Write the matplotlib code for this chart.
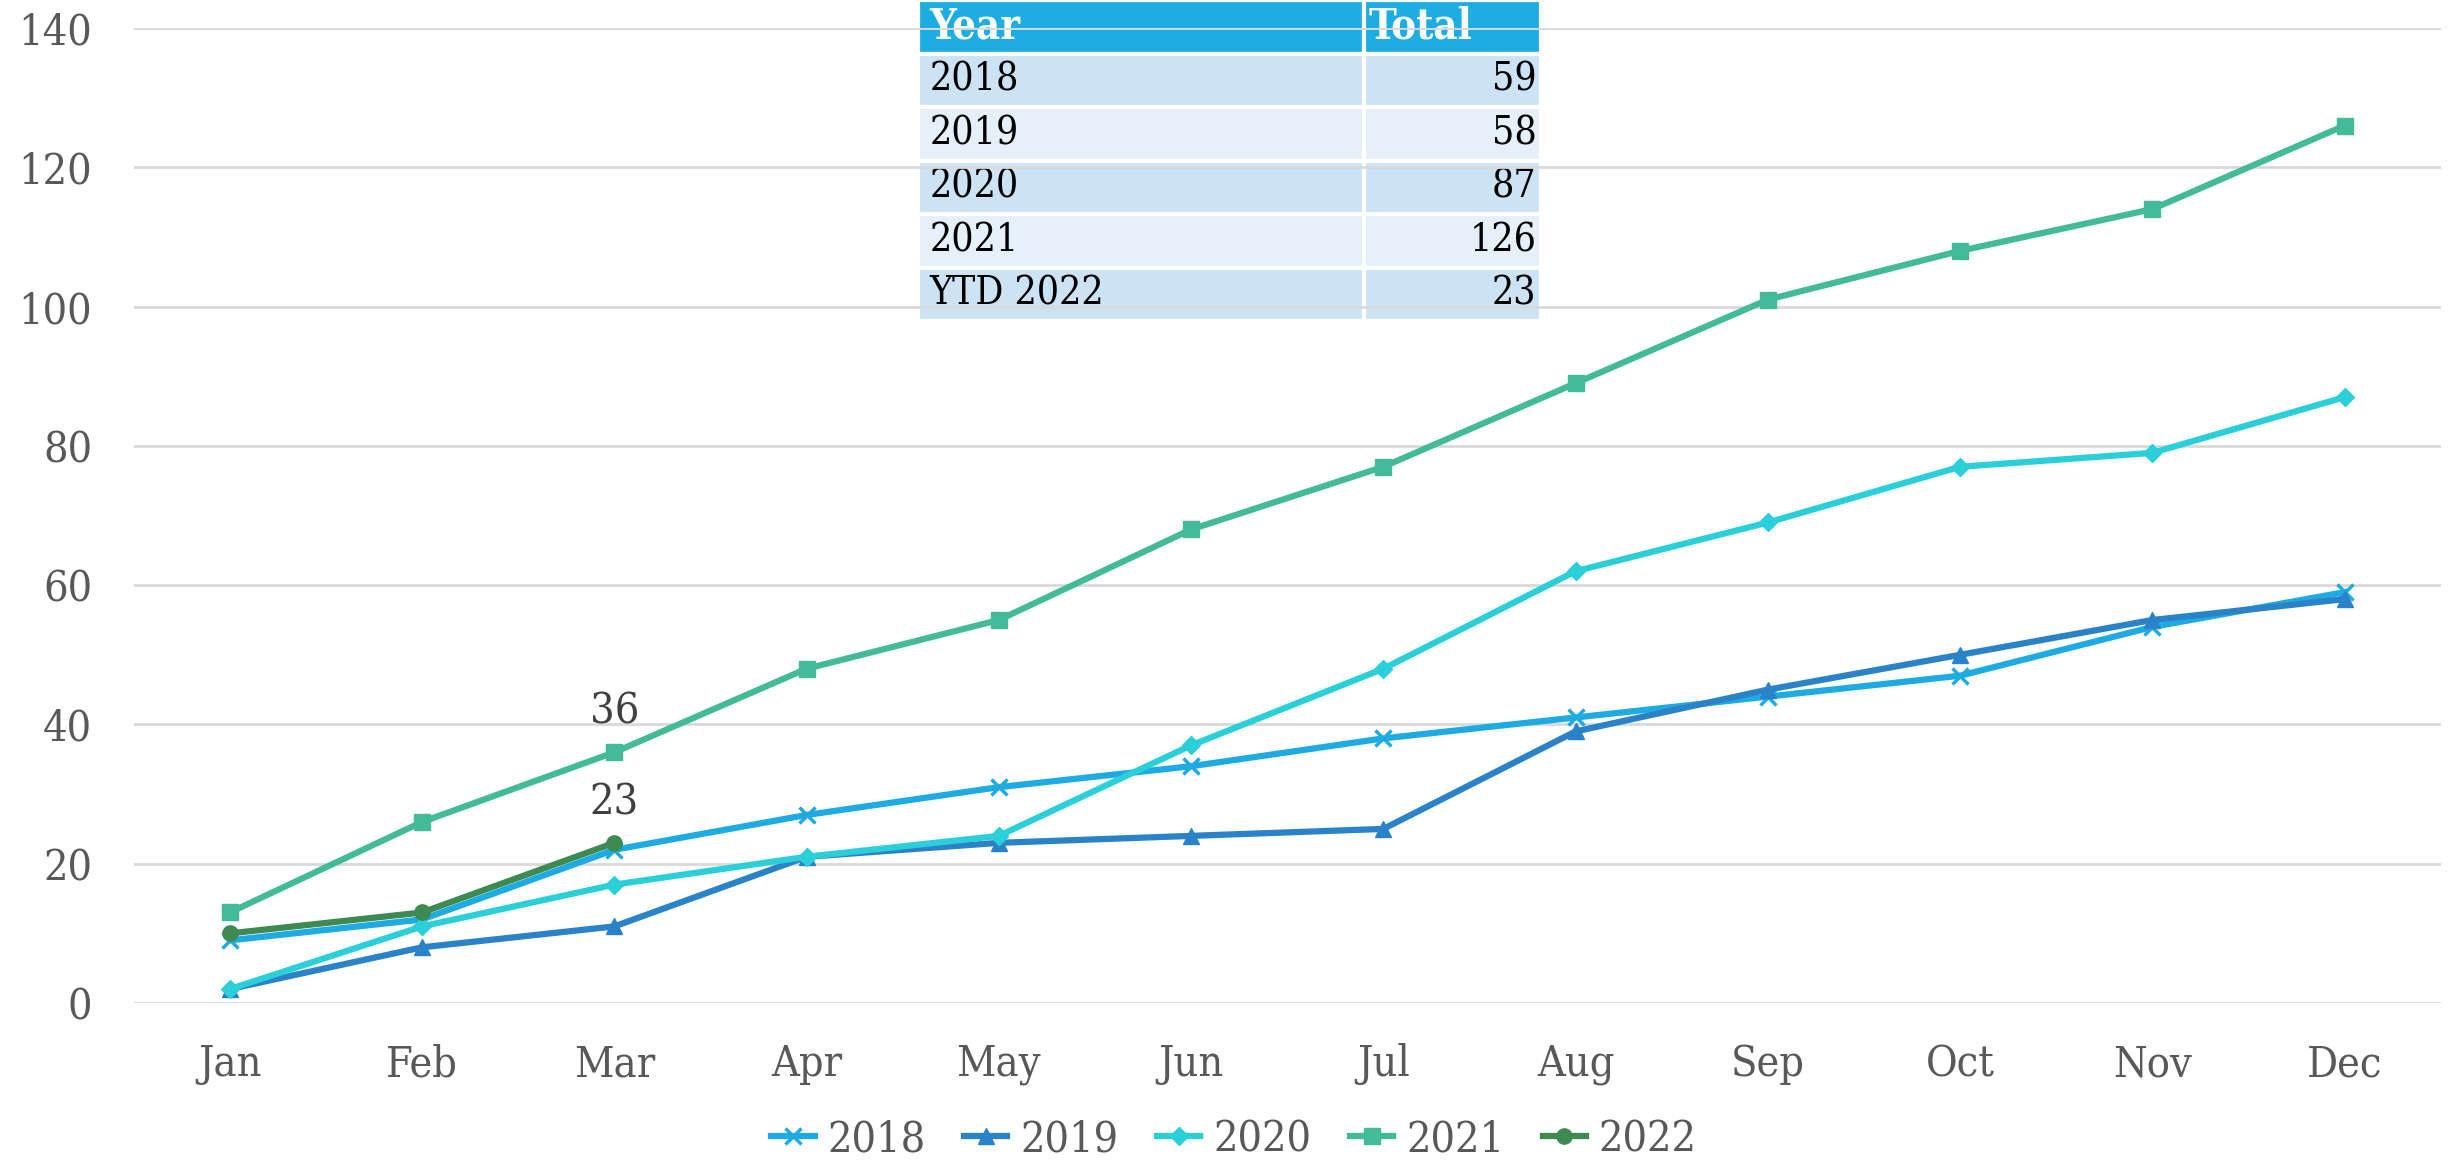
import numpy as np
import matplotlib
matplotlib.use('Agg')
import matplotlib.pyplot as plt

# данные с графика
months = ['Jan', 'Feb', 'Mar', 'Apr', 'May', 'Jun', 'Jul', 'Aug', 'Sep', 'Oct', 'Nov', 'Dec']
y2018 = [9, 12, 22, 27, 31, 34, 38, 41, 44, 47, 54, 59]
y2019 = [2, 8, 11, 21, 23, 24, 25, 39, 45, 50, 55, 58]
y2020 = [2, 11, 17, 21, 24, 37, 48, 62, 69, 77, 79, 87]
y2021 = [13, 26, 36, 48, 55, 68, 77, 89, 101, 108, 114, 126]
y2022 = [10, 13, 23]

table_years = ['2018', '2019', '2020', '2021', 'YTD 2022']
table_totals = [59, 58, 87, 126, 23]

plt.rcParams['font.family'] = ['DejaVu Serif']
plt.rcParams['font.stretch'] = 'condensed'

fig = plt.figure(figsize=(24.53, 11.64), dpi=100)
ax = fig.add_axes([0.0545, 0.1383, 0.9405, 0.8376])

x = np.arange(len(months))
series = [
    ('2018', y2018, '#1EABE3', 'x'),
    ('2019', y2019, '#2A82C8', '^'),
    ('2020', y2020, '#2BCFDA', 'D'),
    ('2021', y2021, '#43BB98', 's'),
    ('2022', y2022, '#3D8A52', 'o'),
]
for name, vals, col, mk in series:
    ms = 9 if mk == 'D' else 11
    ax.plot(x[:len(vals)], vals, color=col, lw=4.5, marker=mk, ms=ms,
            mew=2.5 if mk == 'x' else 1, mec=col, mfc=col, label=name)

# подписи значений за март
ax.annotate(str(y2021[2]), (x[2], y2021[2]), xytext=(0, 14), textcoords='offset points',
            ha='center', va='bottom', fontsize=31, color='#404040')
ax.annotate(str(y2022[2]), (x[2], y2022[2]), xytext=(0, 14), textcoords='offset points',
            ha='center', va='bottom', fontsize=31, color='#404040')

ax.set_xlim(-0.5, 11.5)
ax.set_ylim(0, 140)
ax.set_yticks(np.arange(0, 141, 20))
ax.set_xticks(x)
ax.set_xticklabels(months)
ax.tick_params(axis='both', length=0, labelsize=31, labelcolor='#595959')
ax.tick_params(axis='x', pad=29)
ax.tick_params(axis='y', pad=30)
ax.grid(axis='y', color='#D9D9D9', lw=2)
ax.set_axisbelow(True)
for s in ax.spines.values():
    s.set_visible(False)

leg = ax.legend(loc='center', bbox_to_anchor=(0.477, -0.1395), ncol=5, frameon=False,
                fontsize=31, handlelength=1.0, handletextpad=0.3, columnspacing=0.9,
                labelcolor='#595959')

# таблица итогов
cell_text = [[y, str(t)] for y, t in zip(table_years, table_totals)]
tab = ax.table(cellText=cell_text, colLabels=['Year', 'Total'], colWidths=[0.716, 0.284],
               bbox=[0.340, 0.6995, 0.270, 0.329], cellLoc='left', colLoc='left')
tab.auto_set_font_size(False)
rows_bg = ['#CCE2F5', '#E5F0FA']
for (r, c), cell in tab.get_celld().items():
    cell.set_edgecolor('white')
    cell.set_linewidth(3)
    txt = cell.get_text()
    txt.set_fontsize(28)
    cell.PAD = 0.025
    if r == 0:
        cell.set_facecolor('#1EADE3')
        txt.set_color('white')
        txt.set_fontweight('bold')
        txt.set_fontsize(30)
    else:
        cell.set_facecolor(rows_bg[(r - 1) % 2])
        txt.set_color('black')
        if c == 1:
            cell._loc = 'right'
            txt.set_horizontalalignment('right')

fig.savefig('out.png', dpi=100)
